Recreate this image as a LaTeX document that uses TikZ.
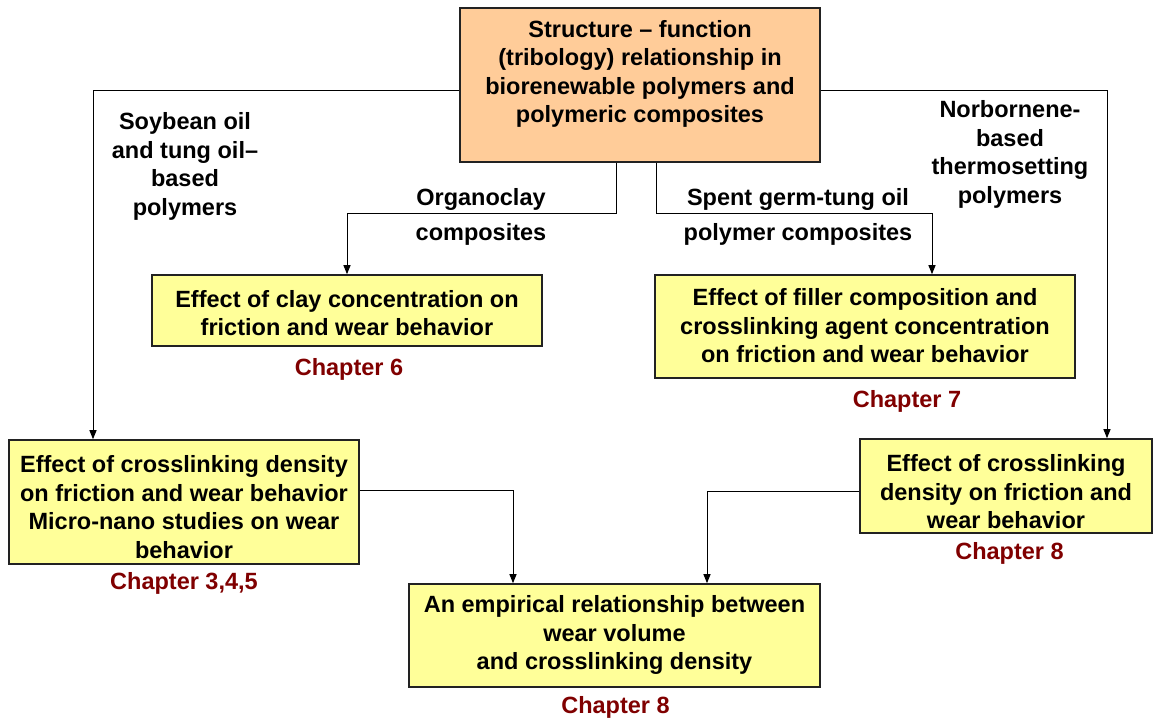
\documentclass[tikz,border=0pt]{standalone}
\usepackage{fontspec}
\setmainfont{Liberation Sans}
\usetikzlibrary{arrows.meta}
\definecolor{yel}{HTML}{FFFF99}
\definecolor{peach}{HTML}{FFCC99}
\definecolor{chapred}{HTML}{800000}
\definecolor{edge}{HTML}{222222}
\tikzset{
  x=1pt, y=-1pt,
  ybox/.style={draw=edge, line width=1.6pt, fill=yel, inner sep=0pt},
  obox/.style={ybox, fill=peach},
  txt/.style={font=\fontsize{23.5}{28.5}\selectfont\bfseries, align=center, inner sep=0pt},
  chap/.style={txt, text=chapred},
  arr/.style={-{Triangle[length=9pt,width=7pt]}, line width=1pt},
  ln/.style={line width=1pt},
}
\begin{document}
\begin{tikzpicture}
\useasboundingbox (0,0) rectangle (1160,723);
% boxes
\node[obox, minimum width=360pt, minimum height=154pt] (top) at (640,85) {};
\node[txt] (toptxt) at (640,74) {Structure – function\\(tribology) relationship in\\biorenewable polymers and\\polymeric composites};

\node[ybox, minimum width=390pt, minimum height=71pt] (C1) at (347,310.5) {};
\node[txt] (c1txt) at (347,313) {Effect of clay concentration on\\friction and wear behavior};

\node[ybox, minimum width=420pt, minimum height=103pt] (C2) at (865,326.5) {};
\node[txt] (c2txt) at (865,326) {Effect of filler composition and\\crosslinking agent concentration\\on friction and wear behavior};

\node[ybox, minimum width=350pt, minimum height=124pt] (L) at (184,502) {};
\node[txt] (ltxt) at (184,507) {Effect of crosslinking density\\on friction and wear behavior\\Micro-nano studies on wear\\behavior};

\node[ybox, minimum width=292pt, minimum height=94pt] (R) at (1006,486) {};
\node[txt] (rtxt) at (1006,492) {Effect of crosslinking\\density on friction and\\wear behavior};

\node[ybox, minimum width=411pt, minimum height=103pt] (B) at (614.5,635.5) {};
\node[txt] (btxt) at (614.5,635) {An empirical relationship between\\wear volume\\and crosslinking density};

% chapter labels
\node[chap] (ch6) at (349,369) {Chapter 6};
\node[chap] (ch7) at (907,401) {Chapter 7};
\node[chap] (ch345) at (184,583) {Chapter 3,4,5};
\node[chap] (ch8r) at (1009.5,553) {Chapter 8};
\node[chap] (ch8b) at (615.5,707) {Chapter 8};

% branch labels
\node[txt] (soy) at (185,166.5) {Soybean oil\\and tung oil–\\based\\polymers};
\node[txt] (nor) at (1010,154.5) {Norbornene-\\based\\thermosetting\\polymers};
\node[txt] (org1) at (481,199) {Organoclay};
\node[txt] (org2) at (481,234) {composites};
\node[txt] (sp1) at (798,199) {Spent germ-tung oil};
\node[txt] (sp2) at (798,234) {polymer composites};

% connectors
\draw[arr] (top.west |- 0,90) -| (L.north -| 93,0);
\draw[arr] (top.east |- 0,90) -| (R.north -| 1107,0);
\draw[arr] (top.south -| 616,0) -- (616,213) -| (C1.north);
\draw[arr] (top.south -| 656,0) -- (656,213) -| (C2.north -| 932,0);
\draw[arr] (L.east |- 0,490) -| (B.north -| 513,0);
\draw[arr] (R.west |- 0,491) -| (B.north -| 707,0);
\end{tikzpicture}
\end{document}
